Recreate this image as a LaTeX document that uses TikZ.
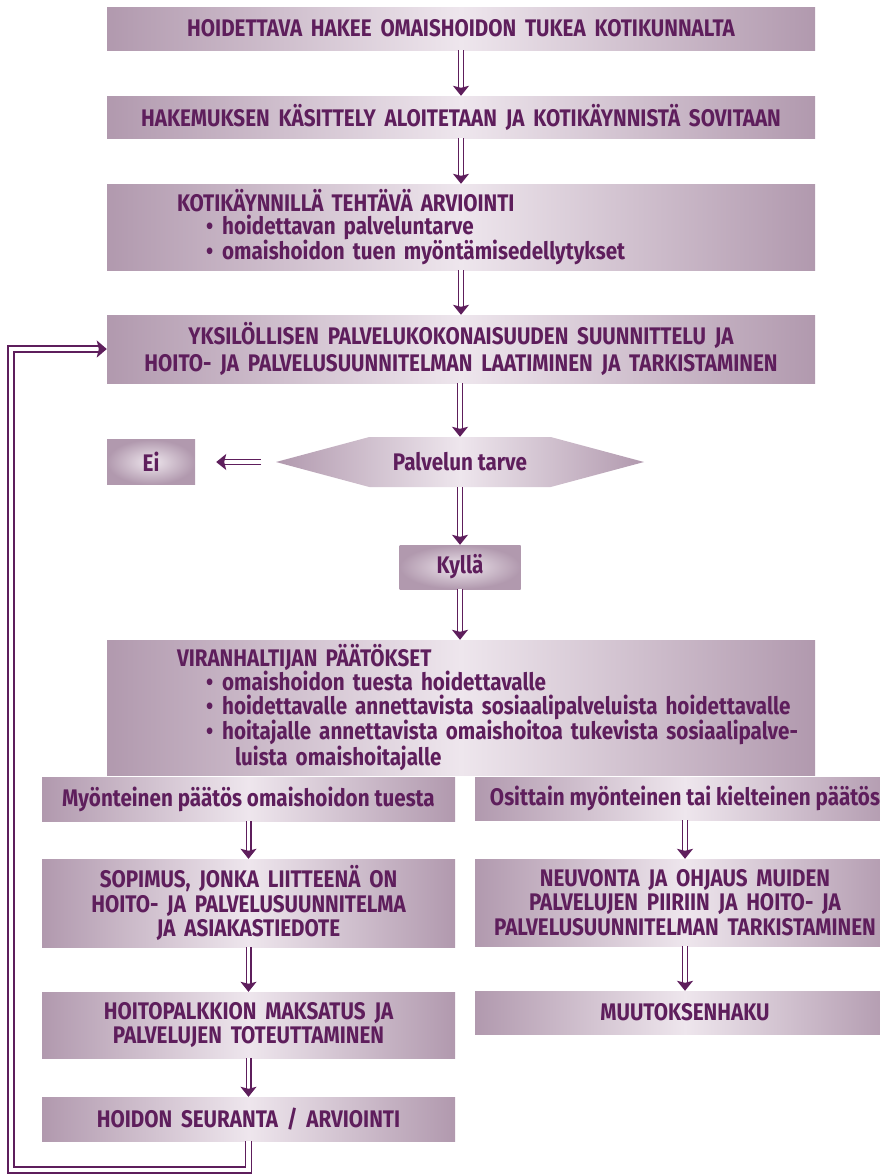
\documentclass[tikz,border=0pt]{standalone}
\usepackage{fontspec}
\setmainfont{Fira Sans}[FakeStretch=0.86]
\newfontfamily\capsf{Fira Sans}[FakeStretch=0.86, WordSpace=1.8]
\usetikzlibrary{arrows.meta,shapes.symbols}
\definecolor{txt}{HTML}{5E1E5C}
\definecolor{edgec}{HTML}{B199AE}
\definecolor{midc}{HTML}{EEE6ED}
\newcommand{\bul}{\hspace*{29pt}\textbullet\hspace{1pt} }
\begin{document}
\begin{tikzpicture}[x=1pt,y=-1pt,
  box/.style={rectangle, left color=edgec, right color=edgec, middle color=midc, text=txt,
    font=\bfseries\fontsize{24}{24.5}\selectfont, inner sep=0pt, align=center},
  caps/.style={font=\capsf\bfseries\fontsize{24}{#1}\selectfont},
  caps/.default=24.5,
  rbox/.style={rectangle, inner color=midc, outer color=edgec, text=txt,
    font=\bfseries\fontsize{24}{24}\selectfont, inner sep=0pt, align=center},
  arr/.style={draw=txt, line width=1.3pt, double=white, double distance=3.4pt,
    -{Stealth[length=10pt,width=16pt,inset=2pt]}},
  loopl/.style={draw=txt, line width=1.5pt, double=white, double distance=4.6pt, line join=miter,
    -{Stealth[length=10pt,width=17pt,inset=2pt]}},
]
\useasboundingbox (0,0) rectangle (880,1176);
\node[box, caps, minimum width=708pt, minimum height=43pt] (b1) at (461,28.5)
  {HOIDETTAVA HAKEE OMAISHOIDON TUKEA KOTIKUNNALTA};
\node[box, caps, minimum width=708pt, minimum height=42pt] (b2) at (461,117)
  {HAKEMUKSEN KÄSITTELY ALOITETAAN JA KOTIKÄYNNISTÄ SOVITAAN};
\node[box, minimum width=708pt, minimum height=86pt, text width=568pt, align=left,
  font=\bfseries\fontsize{24}{23}\selectfont] (b3) at (461,227)
  {\mbox{\capsf KOTIKÄYNNILLÄ TEHTÄVÄ ARVIOINTI}\\
   \mbox{\bul hoidettavan palveluntarve}\\
   \mbox{\bul omaishoidon tuen myöntämisedellytykset}};
\node[box, caps=27.5, minimum width=708pt, minimum height=68pt] (b4) at (461,349)
  {YKSILÖLLISEN PALVELUKOKONAISUUDEN SUUNNITTELU JA\\
   HOITO- JA PALVELUSUUNNITELMAN LAATIMINEN JA TARKISTAMINEN};
\node[box, signal, signal to=west and east, signal pointer angle=30,
  minimum width=368pt, minimum height=50pt] (hx) at (460,462) {Palvelun tarve};
\node[rbox, minimum width=88pt, minimum height=45pt] (ei) at (151,462) {Ei};
\node[rbox, minimum width=121pt, minimum height=44pt] (ky) at (460,567) {Kyllä};
\node[box, minimum width=708pt, minimum height=135pt, text width=568pt, align=left,
  font=\bfseries\fontsize{24}{24}\selectfont] (vir) at (461,707.5)
  {\mbox{\capsf VIRANHALTIJAN PÄÄTÖKSET}\\
   \mbox{\bul omaishoidon tuesta hoidettavalle}\\
   \mbox{\bul hoidettavalle annettavista sosiaalipalveluista hoidettavalle}\\
   \mbox{\bul hoitajalle annettavista omaishoitoa tukevista sosiaalipalve-}\\
   \mbox{\hspace*{58pt}luista omaishoitajalle}};
\node[box, minimum width=413pt, minimum height=44pt] (my) at (248.5,799) {Myönteinen päätös omaishoidon tuesta};
\node[box, minimum width=420pt, minimum height=43pt] (os) at (685,798.5) {Osittain myönteinen tai kielteinen päätös};
\node[box, caps, minimum width=413pt, minimum height=88pt] (so) at (248.5,903)
  {SOPIMUS, JONKA LIITTEENÄ ON\\ HOITO- JA PALVELUSUUNNITELMA\\ JA ASIAKASTIEDOTE};
\node[box, caps, minimum width=420pt, minimum height=87pt] (ne) at (685,902.5)
  {NEUVONTA JA OHJAUS MUIDEN\\ PALVELUJEN PIIRIIN JA HOITO- JA\\ PALVELUSUUNNITELMAN TARKISTAMINEN};
\node[box, caps, minimum width=413pt, minimum height=66pt] (hp) at (248.5,1025)
  {HOITOPALKKION MAKSATUS JA\\ PALVELUJEN TOTEUTTAMINEN};
\node[box, caps, minimum width=420pt, minimum height=43pt] (mu) at (685,1012.5) {MUUTOKSENHAKU};
\node[box, caps, minimum width=413pt, minimum height=44pt] (hs) at (248.5,1119) {HOIDON SEURANTA / ARVIOINTI};

\draw[arr] (b1.south) -- (b2.north);
\draw[arr] (b2.south) -- (b3.north);
\draw[arr] (b3.south) -- (b4.north);
\draw[arr] (b4.south -| hx.south) -- (hx.north);
\draw[arr, shorten <=14pt, shorten >=21pt] (hx.west) -- (ei.east);
\draw[arr] (hx.south) -- (ky.north);
\draw[arr] (ky.south) -- (ky.south |- vir.north);
\draw[arr] (my.south) -- (so.north);
\draw[arr] (so.south) -- (hp.north);
\draw[arr] (hp.south) -- (hs.north);
\draw[arr] (os.south) -- (ne.north);
\draw[arr] (ne.south) -- (mu.north);
\coordinate (lb) at (11,1170);
\coordinate (lt) at (11,349);
\draw[loopl] (hs.south) |- (lb) -- (lt) -- (b4.west);
\end{tikzpicture}
\end{document}
